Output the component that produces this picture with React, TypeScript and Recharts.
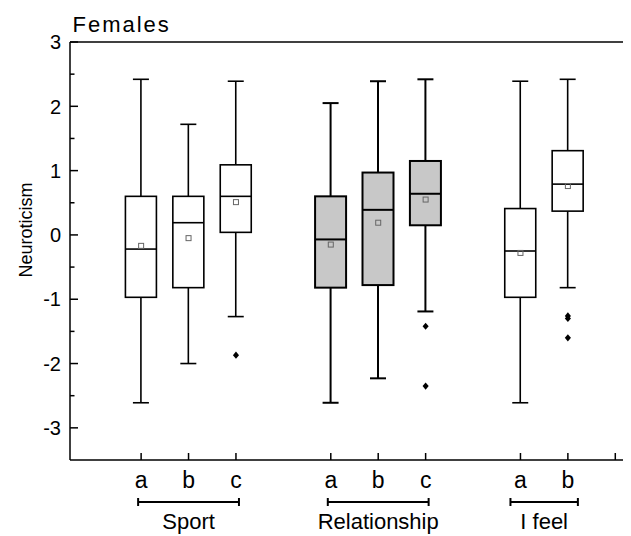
import * as React from "react";
import { ComposedChart, Bar, Scatter, XAxis, YAxis, ReferenceLine } from "recharts";

// one slot per category on the x axis, empty slots separate the groups
const categoryKeys = [
  "gap0", "sport-a", "sport-b", "sport-c",
  "gap1", "rel-a", "rel-b", "rel-c",
  "gap2", "feel-a", "feel-b", "gap3",
];
const tickLabels = ["", "a", "b", "c", "", "a", "b", "c", "", "a", "b", ""];
const tickMarks = [false, true, true, true, false, true, true, true, false, true, true, true];
const shaded = [false, false, false, false, false, true, true, true, false, false, false, false];

const whiskerLow = [null, -2.61, -2.0, -1.27, null, -2.61, -2.23, -1.19, null, -2.61, -0.82, null];
const q1 = [null, -0.97, -0.82, 0.04, null, -0.82, -0.78, 0.15, null, -0.97, 0.37, null];
const median = [null, -0.22, 0.19, 0.6, null, -0.07, 0.39, 0.64, null, -0.25, 0.79, null];
const q3 = [null, 0.6, 0.6, 1.09, null, 0.6, 0.97, 1.15, null, 0.41, 1.31, null];
const whiskerHigh = [null, 2.42, 1.72, 2.39, null, 2.05, 2.39, 2.42, null, 2.39, 2.42, null];
const mean = [null, -0.17, -0.05, 0.51, null, -0.15, 0.19, 0.55, null, -0.28, 0.76, null];

const outlierKeys = ["sport-c", "rel-c", "rel-c", "feel-b", "feel-b", "feel-b"];
const outlierValues = [-1.87, -1.42, -2.35, -1.26, -1.3, -1.6];

const yTicks = [-3, -2.5, -2, -1.5, -1, -0.5, 0, 0.5, 1, 1.5, 2, 2.5, 3];

const groups = [
  { label: "Sport", first: 1, last: 3, pad: 3 },
  { label: "Relationship", first: 5, last: 7, pad: 3 },
  { label: "I feel", first: 9, last: 10, pad: 10 },
];

const rows = categoryKeys.map((key, i) => ({
  key,
  low: whiskerLow[i],
  q1: q1[i],
  median: median[i],
  q3: q3[i],
  high: whiskerHigh[i],
  shaded: shaded[i],
}));

const meanPoints = categoryKeys
  .map((key, i) => ({ key, value: mean[i] }))
  .filter((p) => p.value != null);

const outlierPoints = outlierKeys.map((key, i) => ({ key, value: outlierValues[i] }));

const FONT = "Arial, 'Liberation Sans', sans-serif";
const CHART_W = 631;
const CHART_H = 528;
const Y_W = 62;
const BAND = (CHART_W - Y_W) / categoryKeys.length;

function BoxShape(props: any) {
  const { x, y, width, height, payload } = props;
  if (!payload || payload.q1 == null || !height) return null;
  const top = Math.min(y, y + height);
  const h = Math.abs(height);
  const unit = h / (payload.q3 - payload.q1);
  const yOf = (v: number) => top + (payload.q3 - v) * unit;
  const cx = x + width / 2;
  const sw = payload.shaded ? 2 : 1.6;
  const cap = 8;
  return (
    <g stroke="#000" strokeWidth={sw}>
      <line x1={cx} x2={cx} y1={yOf(payload.high)} y2={top} />
      <line x1={cx - cap} x2={cx + cap} y1={yOf(payload.high)} y2={yOf(payload.high)} />
      <line x1={cx} x2={cx} y1={top + h} y2={yOf(payload.low)} />
      <line x1={cx - cap} x2={cx + cap} y1={yOf(payload.low)} y2={yOf(payload.low)} />
      <rect x={x} y={top} width={width} height={h} fill={payload.shaded ? "#c8c8c8" : "#fff"} />
      <line x1={x} x2={x + width} y1={yOf(payload.median)} y2={yOf(payload.median)} />
    </g>
  );
}

function MeanShape({ cx, cy }: any) {
  if (cx == null || cy == null) return null;
  return <rect x={cx - 2.5} y={cy - 2.5} width={5} height={5} fill="none" stroke="#666" strokeWidth={1} />;
}

function OutlierShape({ cx, cy }: any) {
  if (cx == null || cy == null) return null;
  const r = 3.6;
  return <path d={`M${cx},${cy - r}L${cx + r * 0.85},${cy}L${cx},${cy + r}L${cx - r * 0.85},${cy}Z`} fill="#000" />;
}

function YTick({ x, y, payload }: any) {
  const major = Number.isInteger(payload.value);
  return (
    <g>
      <line x1={x} x2={x + (major ? 8 : 4.5)} y1={y} y2={y} stroke="#000" strokeWidth={1.5} />
      {major && (
        <text x={x - 9} y={y} dy="0.36em" textAnchor="end" fontSize={20} fontFamily={FONT} fill="#000">
          {payload.value}
        </text>
      )}
    </g>
  );
}

function XTick({ x, y, payload }: any) {
  const i = categoryKeys.indexOf(payload.value);
  const group = groups.find((g) => g.first === i);
  return (
    <g>
      {tickMarks[i] && <line x1={x} x2={x} y1={y} y2={y - 7} stroke="#000" strokeWidth={1.5} />}
      {tickLabels[i] && (
        <text x={x} y={y + 28} textAnchor="middle" fontSize={23} fontFamily={FONT} fill="#000">
          {tickLabels[i]}
        </text>
      )}
      {group && (() => {
        const x1 = x - group.pad;
        const x2 = x + (group.last - group.first) * BAND + group.pad;
        const by = y + 42;
        return (
          <g>
            <g stroke="#000" strokeWidth={2}>
              <line x1={x1} x2={x2} y1={by} y2={by} />
              <line x1={x1} x2={x1} y1={by - 4} y2={by + 4} />
              <line x1={x2} x2={x2} y1={by - 4} y2={by + 4} />
            </g>
            <text x={(x1 + x2) / 2} y={y + 69} textAnchor="middle" fontSize={22} fontFamily={FONT} fill="#000">
              {group.label}
            </text>
          </g>
        );
      })()}
    </g>
  );
}

export default function App() {
  return (
    <div style={{ width: 623, height: 528, overflow: "hidden" }}>
      <ComposedChart
        width={CHART_W}
        height={CHART_H}
        data={rows}
        margin={{ top: 34, right: 0, bottom: 0, left: 0 }}
        barSize={31}
      >
        <XAxis
          dataKey="key"
          type="category"
          allowDuplicatedCategory={false}
          interval={0}
          height={76}
          tickSize={0}
          tickMargin={0}
          tick={<XTick />}
          axisLine={{ stroke: "#000", strokeWidth: 1.5 }}
        />
        <YAxis
          type="number"
          domain={[-3.5, 3]}
          ticks={yTicks}
          interval={0}
          width={Y_W}
          tickSize={0}
          tickMargin={0}
          tick={<YTick />}
          axisLine={{ stroke: "#000", strokeWidth: 1.5 }}
          allowDataOverflow
          label={{
            content: ({ viewBox }: any) => (
              <text
                x={viewBox.x + 18}
                y={viewBox.y + viewBox.height / 2 - 21}
                transform={`rotate(-90, ${viewBox.x + 18}, ${viewBox.y + viewBox.height / 2 - 21})`}
                textAnchor="middle"
                dy="0.35em"
                fontSize={18}
                fontFamily={FONT}
                fill="#000"
              >
                Neuroticism
              </text>
            ),
          }}
        />
        <ReferenceLine
          y={3}
          stroke="#000"
          strokeWidth={1.5}
          label={{
            content: ({ viewBox }: any) => (
              <text x={viewBox.x + 2.5} y={viewBox.y - 10} fontSize={22} letterSpacing={2} fontFamily={FONT} fill="#000">
                Females
              </text>
            ),
          }}
        />
        <Bar
          dataKey={(r: any) => (r.q1 == null ? null : [r.q1, r.q3])}
          shape={<BoxShape />}
          isAnimationActive={false}
        />
        <Scatter data={meanPoints} dataKey="value" shape={<MeanShape />} isAnimationActive={false} />
        <Scatter data={outlierPoints} dataKey="value" shape={<OutlierShape />} isAnimationActive={false} />
      </ComposedChart>
    </div>
  );
}
